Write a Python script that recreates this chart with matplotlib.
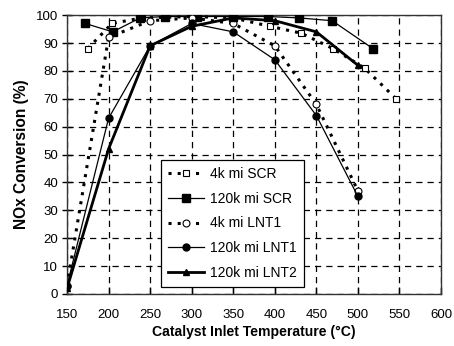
import matplotlib.pyplot as plt

plt.rcParams['font.family'] = ['Liberation Sans', 'DejaVu Sans']

# data
scr_4k_t = [175, 204, 240, 300, 350, 394, 432, 470, 508, 546]
scr_4k_y = [88, 97, 99, 99.5, 99, 96, 93.5, 88, 81, 70]

scr_120k_t = [172, 205, 238, 268, 307, 350, 392, 429, 469, 518]
scr_120k_y = [97, 94, 99, 99.5, 99.5, 99.5, 99.5, 99, 98, 88]

lnt1_4k_t = [150, 200, 250, 300, 350, 400, 450, 500]
lnt1_4k_y = [3, 92, 98, 99, 97, 89, 68, 37]

lnt1_120k_t = [150, 200, 250, 300, 350, 400, 450, 500]
lnt1_120k_y = [3, 63, 89, 97, 94, 84, 64, 35]

lnt2_120k_t = [150, 200, 250, 300, 350, 400, 450, 500]
lnt2_120k_y = [2, 52, 89, 96, 99, 98, 94, 82]

x_ticks = [150, 200, 250, 300, 350, 400, 450, 500, 550, 600]
y_ticks = [0, 10, 20, 30, 40, 50, 60, 70, 80, 90, 100]

fig = plt.figure(figsize=(4.54, 3.46), dpi=100)
ax = fig.add_axes([0.1476, 0.1503, 0.8238, 0.806])

ax.plot(scr_4k_t, scr_4k_y, linestyle=(0, (1, 2)), linewidth=2.2, color='black',
        marker='s', markersize=5, markerfacecolor='white', markeredgecolor='black',
        markeredgewidth=0.8, label='4k mi SCR', zorder=3)
ax.plot(scr_120k_t, scr_120k_y, linestyle='-', linewidth=0.9, color='black',
        marker='s', markersize=5.5, label='120k mi SCR', zorder=3)
ax.plot(lnt1_4k_t, lnt1_4k_y, linestyle=(0, (1, 2)), linewidth=2.2, color='black',
        marker='o', markersize=5, markerfacecolor='white', markeredgecolor='black',
        markeredgewidth=0.8, label='4k mi LNT1', zorder=3)
ax.plot(lnt1_120k_t, lnt1_120k_y, linestyle='-', linewidth=0.9, color='black',
        marker='o', markersize=5, label='120k mi LNT1', zorder=3)
ax.plot(lnt2_120k_t, lnt2_120k_y, linestyle='-', linewidth=2.0, color='black',
        marker='^', markersize=5, label='120k mi LNT2', zorder=3)

ax.set_xlim(150, 600)
ax.set_ylim(0, 100)
ax.set_xticks(x_ticks)
ax.set_yticks(y_ticks)
ax.tick_params(axis='x', direction='in', length=5, width=1, labelsize=9.5, pad=11)
ax.tick_params(axis='y', direction='inout', length=7, width=1, labelsize=9.5, pad=3)
ax.grid(True, color='black', linestyle=(0, (5, 4)), linewidth=0.9)

for s in ax.spines.values():
    s.set_linewidth(1.0)
    s.set_color('#333333')

ax.set_xlabel('Catalyst Inlet Temperature (°C)', fontsize=10.1, fontweight='bold', labelpad=3)
ax.set_ylabel('NOx Conversion (%)', fontsize=11.2, fontweight='bold', labelpad=5)

leg = ax.legend(loc='lower left', bbox_to_anchor=(0.252, 0.025), fontsize=10,
                frameon=True, fancybox=False, edgecolor='black', framealpha=1,
                handlelength=2.6, borderpad=0.5, labelspacing=0.78, handletextpad=0.4,
                borderaxespad=0)
leg.get_frame().set_linewidth(0.9)

fig.savefig('out.png', dpi=100)
